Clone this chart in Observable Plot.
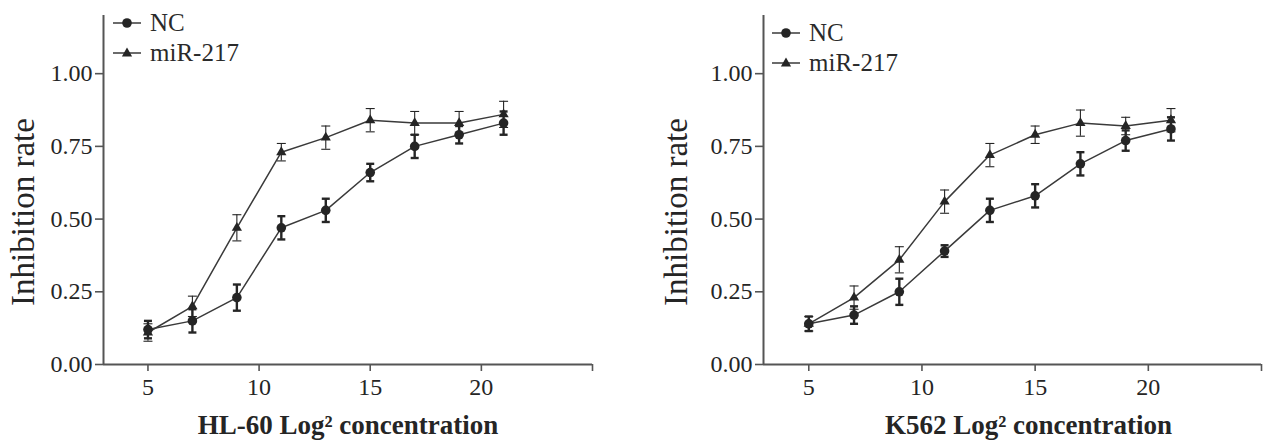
<!DOCTYPE html>
<html>
<head>
<meta charset="utf-8">
<script src="https://cdn.jsdelivr.net/npm/d3@7"></script>
<script src="https://cdn.jsdelivr.net/npm/@observablehq/plot@0.6"></script>
<style>
  html, body { margin: 0; padding: 0; background: #fff; }
  #wrap { display: flex; width: 1287px; height: 442px; }
  .panel { position: relative; }
  .legend { position: absolute; font-family: "Liberation Serif", "Times New Roman", serif; font-size: 25px; color: #2a2a2a; }
  .legend .row { display: flex; align-items: center; height: 30px; }
  .legend svg { margin-right: 9px; }
</style>
</head>
<body>
<div id="wrap"></div>
<script>
// ---- data ----
const concentrations = [5, 7, 9, 11, 13, 15, 17, 19, 21];
const seriesNames = ["NC", "miR-217"];

const hl60NC      = [0.12, 0.15, 0.23, 0.47, 0.53, 0.66, 0.75, 0.79, 0.83];
const hl60NCErr   = [0.03, 0.04, 0.045, 0.04, 0.04, 0.03, 0.04, 0.03, 0.04];
const hl60Mir     = [0.11, 0.20, 0.47, 0.73, 0.78, 0.84, 0.83, 0.83, 0.86];
const hl60MirErr  = [0.03, 0.035, 0.045, 0.03, 0.04, 0.04, 0.04, 0.04, 0.045];

const k562NC      = [0.14, 0.17, 0.25, 0.39, 0.53, 0.58, 0.69, 0.77, 0.81];
const k562NCErr   = [0.025, 0.03, 0.045, 0.02, 0.04, 0.04, 0.04, 0.035, 0.04];
const k562Mir     = [0.14, 0.23, 0.36, 0.56, 0.72, 0.79, 0.83, 0.82, 0.84];
const k562MirErr  = [0.025, 0.04, 0.045, 0.04, 0.04, 0.03, 0.045, 0.03, 0.04];

const yTicks = [0, 0.25, 0.5, 0.75, 1.0];
const xTicks = [5, 10, 15, 20, 25];
const xTickLabels = ["5", "10", "15", "20", ""];

const FONT = "'Liberation Serif', 'Times New Roman', serif";
const AXIS = "#555";
const INK = "#252525";

const capSymbol = {
  draw(ctx, size) {
    const w = Math.sqrt(size / Math.PI);
    ctx.moveTo(-w, 0);
    ctx.lineTo(w, 0);
  }
};

function rows(vals, errs, series) {
  return concentrations.map((c, i) => ({ x: c, y: vals[i], lo: vals[i] - errs[i], hi: vals[i] + errs[i], series }));
}

function panel(opts) {
  const nc = rows(opts.nc, opts.ncErr, "NC");
  const mir = rows(opts.mir, opts.mirErr, "miR-217");
  const errMarks = (data, sw, r) => [
    Plot.ruleX(data, { x: "x", y1: "lo", y2: "hi", stroke: INK, strokeWidth: sw }),
    Plot.dot(data, { x: "x", y: "lo", symbol: capSymbol, r, stroke: INK, strokeWidth: sw, fill: "none" }),
    Plot.dot(data, { x: "x", y: "hi", symbol: capSymbol, r, stroke: INK, strokeWidth: sw, fill: "none" })
  ];
  return Plot.plot({
    width: opts.width,
    height: 442,
    marginLeft: opts.marginLeft,
    marginRight: opts.marginRight,
    marginTop: 15,
    marginBottom: 78,
    style: { fontFamily: FONT, fontSize: "24px", color: INK, background: "#fff", overflow: "visible" },
    x: { domain: [3, 25] },
    y: { domain: [0, 1.2] },
    marks: [
      Plot.axisY({ ticks: yTicks, tickFormat: d3.format(".2f"), tickSize: 8, tickPadding: 3, fontSize: 24, label: null, stroke: AXIS, strokeWidth: 1.6, fill: INK }),
      Plot.axisX({ ticks: xTicks, tickFormat: (d) => xTickLabels[xTicks.indexOf(d)], tickSize: 7, tickPadding: 6, fontSize: 24, label: null, stroke: AXIS, strokeWidth: 1.6, fill: INK }),
      Plot.ruleX([3], { stroke: AXIS, strokeWidth: 2 }),
      Plot.ruleY([0], { stroke: AXIS, strokeWidth: 2 }),
      ...errMarks(mir, 1.1, 4.5),
      ...errMarks(nc, 2.4, 4),
      Plot.line(mir, { x: "x", y: "y", stroke: "#3a3a3a", strokeWidth: 1.5 }),
      Plot.line(nc, { x: "x", y: "y", stroke: "#3a3a3a", strokeWidth: 1.5 }),
      Plot.dot(mir, { x: "x", y: "y", symbol: "triangle", r: 3.8, fill: INK, stroke: "none" }),
      Plot.dot(nc, { x: "x", y: "y", symbol: "circle", r: 4.8, fill: INK, stroke: "none" }),
      Plot.text([opts.yLabel], { text: d => d, frameAnchor: "left", textAnchor: "middle", lineAnchor: "middle", rotate: -90, dx: opts.yLabelDx, dy: 22, fontSize: 33, fill: INK }),
      Plot.text([opts.xLabel], { text: d => d, frameAnchor: "bottom", textAnchor: "middle", lineAnchor: "middle", dy: 61, dx: opts.xLabelDx, fontSize: 27, fontWeight: "bold", fill: INK })
    ]
  });
}

function legend(left, top) {
  const div = document.createElement("div");
  div.className = "legend";
  div.style.left = left + "px";
  div.style.top = top + "px";
  const sym = {
    "NC": `<circle cx="14" cy="8" r="4.8" fill="${INK}"/>`,
    "miR-217": `<path d="${d3.symbol(d3.symbolTriangle, Math.PI * 3.8 * 3.8)()}" transform="translate(14,8.5)" fill="${INK}"/>`
  };
  div.innerHTML = seriesNames.map(n => `<div class="row"><svg width="28" height="16"><line x1="0" x2="28" y1="8" y2="8" stroke="#3a3a3a" stroke-width="1.5"/>${sym[n]}</svg><span>${n}</span></div>`).join("");
  return div;
}

const wrap = document.getElementById("wrap");

const p1 = document.createElement("div");
p1.className = "panel";
p1.appendChild(panel({
  width: 645, marginLeft: 103, marginRight: 53,
  nc: hl60NC, ncErr: hl60NCErr, mir: hl60Mir, mirErr: hl60MirErr,
  yLabel: "Inhibition rate", yLabelDx: -80,
  xLabel: "HL-60 Log² concentration", xLabelDx: 0
}));
p1.appendChild(legend(113, 8));
wrap.appendChild(p1);

const p2 = document.createElement("div");
p2.className = "panel";
p2.appendChild(panel({
  width: 642, marginLeft: 118, marginRight: 26,
  nc: k562NC, ncErr: k562NCErr, mir: k562Mir, mirErr: k562MirErr,
  yLabel: "Inhibition rate", yLabelDx: -87,
  xLabel: "K562 Log² concentration", xLabelDx: 16
}));
p2.appendChild(legend(772 - 645, 18));
wrap.appendChild(p2);
</script>
</body>
</html>
